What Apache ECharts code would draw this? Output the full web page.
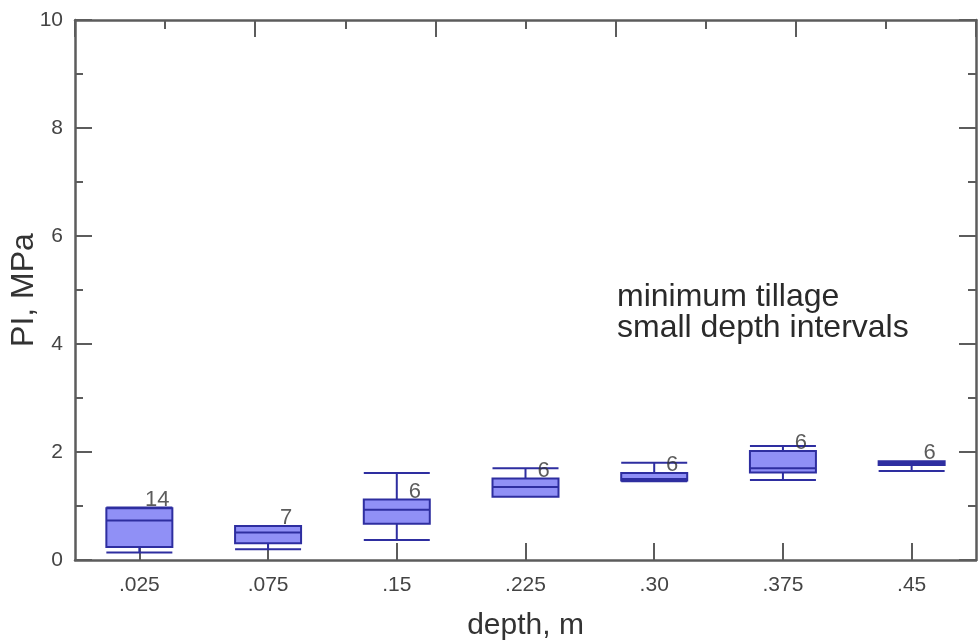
<!DOCTYPE html>
<html>
<head>
<meta charset="utf-8">
<script src="https://cdn.jsdelivr.net/npm/echarts@6/dist/echarts.min.js"></script>
<style>
  html, body { margin: 0; padding: 0; background: #fff; }
  #chart { width: 980px; height: 643px; }
</style>
</head>
<body>
<div id="chart"></div>
<script>
// depth categories (m) and PI (MPa) box statistics
const depths = ['.025', '.075', '.15', '.225', '.30', '.375', '.45']
const whiskerLow = [0.14, 0.20, 0.37, 1.17, 1.46, 1.48, 1.65]
const quartile1 = [0.24, 0.31, 0.67, 1.17, 1.47, 1.62, 1.76]
const medians = [0.73, 0.51, 0.93, 1.35, 1.50, 1.70, 1.79]
const quartile3 = [0.96, 0.63, 1.12, 1.51, 1.61, 2.02, 1.83]
const whiskerHigh = [0.97, 0.63, 1.61, 1.70, 1.80, 2.11, 1.83]
const counts = [14, 7, 6, 6, 6, 6, 6]

const axisColor = '#5c5c5c'
const boxData = depths.map((d, i) => [whiskerLow[i], quartile1[i], medians[i], quartile3[i], whiskerHigh[i]])
const topSlots = Array(10).fill('')

const chart = echarts.init(document.getElementById('chart'))

const frameAxis = {
  min: 0,
  max: 10,
  interval: 2,
  axisLine: { show: true, onZero: false, lineStyle: { color: axisColor, width: 2.5 } },
  axisTick: { show: true, inside: true, length: 17, lineStyle: { color: axisColor, width: 2 } },
  minorTick: { show: true, splitNumber: 2, length: 8, lineStyle: { color: axisColor, width: 2 } },
  splitLine: { show: false },
  minorSplitLine: { show: false }
}

const option = {
  animation: false,
  backgroundColor: '#ffffff',
  textStyle: { fontFamily: 'Liberation Sans, Arial, sans-serif' },
  grid: { left: 75, right: 4, top: 20, bottom: 83, containLabel: false, outerBoundsMode: 'none' },
  xAxis: [
    {
      type: 'category',
      data: depths,
      position: 'bottom',
      name: 'depth, m',
      nameLocation: 'middle',
      nameGap: 51,
      nameMoveOverlap: false,
      nameTextStyle: { fontSize: 30, color: '#333' },
      axisLine: { onZero: false, lineStyle: { color: axisColor, width: 2.5 } },
      axisTick: { show: true, inside: true, alignWithLabel: true, length: 17, lineStyle: { color: axisColor, width: 2 } },
      axisLabel: { fontSize: 21, color: '#444', margin: 15 },
      splitLine: { show: false }
    },
    // top frame: short ticks between ten equal slots
    {
      type: 'category',
      position: 'top',
      data: topSlots,
      axisLine: { show: true, onZero: false, lineStyle: { color: axisColor, width: 2.5 } },
      axisTick: { show: true, inside: true, interval: 0, length: 9, lineStyle: { color: axisColor, width: 2 } },
      axisLabel: { show: false },
      splitLine: { show: false }
    },
    Object.assign({ type: 'value', position: 'top', axisLabel: { show: false } }, frameAxis, {
      minorTick: { show: false },
      axisLine: { show: false, onZero: false }
    })
  ],
  yAxis: [
    Object.assign({
      type: 'value',
      position: 'left',
      name: 'PI, MPa',
      nameLocation: 'middle',
      nameRotate: 90,
      nameGap: 35,
      nameMoveOverlap: false,
      nameTextStyle: { fontSize: 32, color: '#333' },
      axisLabel: { fontSize: 21, color: '#444', margin: 12 }
    }, frameAxis),
    Object.assign({ type: 'value', position: 'right', axisLabel: { show: false } }, frameAxis)
  ],
  graphic: [
    {
      type: 'text',
      left: 617,
      top: 281,
      style: {
        text: 'minimum tillage\nsmall depth intervals',
        fontSize: 32,
        lineHeight: 31,
        fill: '#2a2a2a',
        fontFamily: 'Liberation Sans, Arial, sans-serif'
      }
    }
  ],
  series: [
    {
      type: 'boxplot',
      xAxisIndex: 0,
      yAxisIndex: 0,
      boxWidth: [66, 66],
      data: boxData,
      itemStyle: { color: '#9090f6', borderColor: '#2e2ea0', borderWidth: 2 }
    },
    {
      type: 'scatter',
      xAxisIndex: 0,
      yAxisIndex: 0,
      symbolSize: 0,
      data: quartile3,
      label: {
        show: true,
        position: 'inside',
        offset: [18, -8],
        fontSize: 22,
        color: '#333',
        formatter: p => String(counts[p.dataIndex])
      }
    }
  ]
}

chart.setOption(option)
</script>
</body>
</html>
